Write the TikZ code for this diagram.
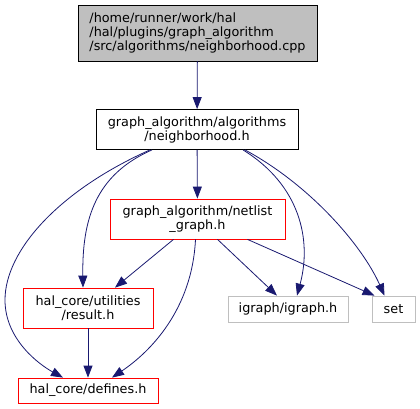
\documentclass[tikz,border=0pt]{standalone}
\usepackage{fontspec}
\setmainfont{DejaVu Sans}
\usetikzlibrary{arrows.meta}
\definecolor{edgeblue}{HTML}{191970}
\definecolor{boxgrey}{HTML}{BFBFBF}
\definecolor{boxred}{HTML}{FF0000}
\tikzset{
  box/.style={draw, line width=0.8pt, inner sep=0pt, align=center,
    font=\fontsize{12.8pt}{14pt}\selectfont},
  topbox/.style={box, draw=black, fill=boxgrey, align=left},
  plainbox/.style={box, draw=black},
  redbox/.style={box, draw=boxred},
  greybox/.style={box, draw=boxgrey},
  edge/.style={draw=edgeblue, line width=0.8pt,
    -{Triangle[length=12pt,width=9pt]}, fill=none},
}
\begin{document}
\begin{tikzpicture}[x=1pt, y=-1pt]
\useasboundingbox (0,0) rectangle (420,409);
\node[topbox, minimum width=239pt, minimum height=56pt] (top) at (197.5,33)
  {/home/runner/work/hal\\/hal/plugins/graph\_algorithm\\/src/algorithms/neighborhood.cpp};
\node[plainbox, minimum width=202pt, minimum height=40pt] (nb) at (197,129.5)
  {graph\_algorithm/algorithms\\/neighborhood.h};
\node[redbox, minimum width=175pt, minimum height=40pt] (ng) at (197.5,219)
  {graph\_algorithm/netlist\\\_graph.h};
\node[redbox, minimum width=130pt, minimum height=40pt] (res) at (88,308)
  {hal\_core/utilities\\/result.h};
\node[greybox, minimum width=120pt, minimum height=26pt] (ig) at (288,309)
  {igraph/igraph.h};
\node[greybox, minimum width=43pt, minimum height=26pt] (set) at (393.5,309)
  {set};
\node[redbox, minimum width=140pt, minimum height=25pt] (def) at (88,390.5)
  {hal\_core/defines.h};

\draw[edge] (top) -- (nb);
\draw[edge] (nb) -- (ng);
\draw[edge] ([xshift=-45pt]nb.south) .. controls (95,175) and (82,220) .. ([xshift=-5pt]res.north);
\draw[edge] ([xshift=-47pt]nb.south) .. controls (60,190) and (5,250) .. (5,300)
  .. controls (5,340) and (40,365) .. ([xshift=-25pt]def.north);
\draw[edge] ([xshift=46pt]nb.south) .. controls (300,185) and (312,240) .. ([xshift=9pt]ig.north);
\draw[edge] ([xshift=48pt]nb.south) .. controls (310,185) and (362,245) .. ([xshift=-9pt]set.north);
\draw[edge] ([xshift=-24pt]ng.south) -- ([xshift=27pt]res.north);
\draw[edge] ([xshift=-2pt]ng.south) .. controls (192,310) and (150,352) .. ([xshift=24pt]def.north);
\draw[edge] ([xshift=20pt]ng.south) -- ([xshift=-11pt]ig.north);
\draw[edge] ([xshift=50pt]ng.south) -- ([xshift=-19pt]set.north);
\draw[edge] (res) -- (def);
\end{tikzpicture}
\end{document}
